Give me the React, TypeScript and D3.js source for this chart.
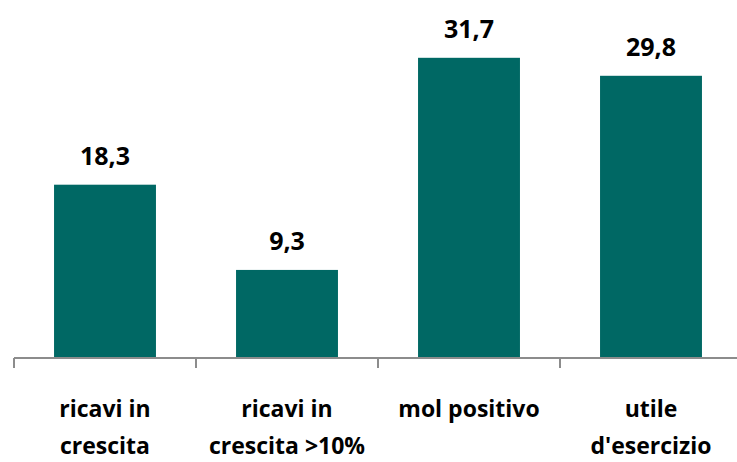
import React from "react";
import * as d3 from "d3";

const categories: string[][] = [
  ["ricavi in", "crescita"],
  ["ricavi in", "crescita >10%"],
  ["mol positivo"],
  ["utile", "d'esercizio"],
];
const values: number[] = [18.3, 9.3, 31.7, 29.8];
const labels: string[] = ["18,3", "9,3", "31,7", "29,8"];

const W = 737;
const H = 462;
const x0 = 14;
const band = 182;
const baseY = 358;

export default function App() {
  const idx = values.map((_, i) => String(i));
  const x = d3
    .scaleBand<string>()
    .domain(idx)
    .range([x0, x0 + band * values.length])
    .paddingInner(0.44)
    .paddingOuter(0.22);
  const y = d3.scaleLinear().domain([0, 35]).range([baseY, baseY - 35 * 9.47]);
  const font = "'Open Sans', sans-serif";
  return (
    <svg
      width={W}
      height={H}
      style={{ position: "absolute", left: 0, top: 0, background: "#fff" }}
    >
      {values.map((v, i) => (
        <g key={i}>
          <rect
            x={x(String(i))!}
            y={y(v)}
            width={x.bandwidth()}
            height={baseY - y(v)}
            fill="#006864"
          />
          <text
            x={x(String(i))! + x.bandwidth() / 2}
            y={y(v) - 20}
            textAnchor="middle"
            fontFamily={font}
            fontWeight="bold"
            fontSize={25}
            fill="#000"
          >
            {labels[i]}
          </text>
        </g>
      ))}
      <line x1={x0} x2={W} y1={baseY} y2={baseY} stroke="#8c8c8c" strokeWidth={2} />
      {d3.range(values.length + 1).map((i) => (
        <line
          key={i}
          x1={x0 + band * i}
          x2={x0 + band * i}
          y1={baseY}
          y2={baseY + 10}
          stroke="#8c8c8c"
          strokeWidth={2}
        />
      ))}
      {categories.map((lines, i) =>
        lines.map((t, j) => (
          <text
            key={i + "-" + j}
            x={x(String(i))! + x.bandwidth() / 2}
            y={417 + j * 37}
            textAnchor="middle"
            fontFamily={font}
            fontWeight="bold"
            fontSize={23}
            fill="#000"
          >
            {t}
          </text>
        ))
      )}
    </svg>
  );
}
